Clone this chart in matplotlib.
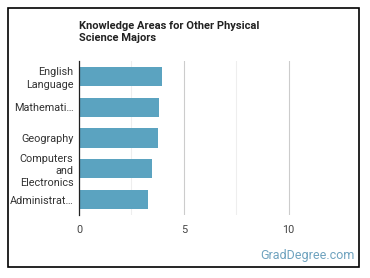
import matplotlib
matplotlib.use("Agg")
import matplotlib.pyplot as plt
from matplotlib.patches import Rectangle

plt.rcParams["font.family"] = ["Roboto", "DejaVu Sans"]

categories = ["English\nLanguage", "Mathemati…", "Geography", "Computers\nand\nElectronics", "Administrat…"]
values = [3.95, 3.8, 3.78, 3.5, 3.3]
xticks = [0, 5, 10]

fig = plt.figure(figsize=(3.7, 2.78), dpi=100)
fig.patch.set_facecolor("white")
ax = fig.add_axes([79/370, 1-215/278, (341-79)/370, (215-61)/278])

y = list(range(len(categories)))
ax.barh(y, values, height=0.62, color="#5ba3c0", zorder=3)
ax.set_ylim(len(categories) - 0.5, -0.5)
ax.set_xlim(0, 12.5)
ax.set_yticks(y)
ax.set_yticklabels(categories, fontsize=7.8, color="#333333", linespacing=1.3)
ax.set_xticks(xticks)
ax.set_xticklabels([str(t) for t in xticks], fontsize=7.8, color="#444444")
ax.set_xticks([2.5, 7.5], minor=True)
ax.tick_params(axis="both", which="both", length=0)
ax.tick_params(axis="x", which="both", pad=7)
ax.tick_params(axis="y", pad=4)
ax.grid(axis="x", which="major", color="#cccccc", linewidth=0.8, zorder=0)
ax.grid(axis="x", which="minor", color="#eeeeee", linewidth=0.8, zorder=0)
for s in ["top", "right", "bottom"]:
    ax.spines[s].set_visible(False)
ax.spines["left"].set_color("#222222")
ax.spines["left"].set_linewidth(0.9)
ax.spines["left"].set_zorder(4)

fig.text(79/370, 1-21/278, "Knowledge Areas for Other Physical\nScience Majors",
         fontsize=8, fontweight="bold", color="#222222", va="top", ha="left", linespacing=1.3)
fig.text(355/370, 1-255/278, "GradDegree.com", fontsize=9, color="#6fa3bf", ha="right", va="center")

fig.patches.append(Rectangle((8/370, 1-267/278), (359-8)/370, (267-8)/278,
                             transform=fig.transFigure, fill=False, edgecolor="black", linewidth=1.2))

fig.savefig("out.png", dpi=100)
